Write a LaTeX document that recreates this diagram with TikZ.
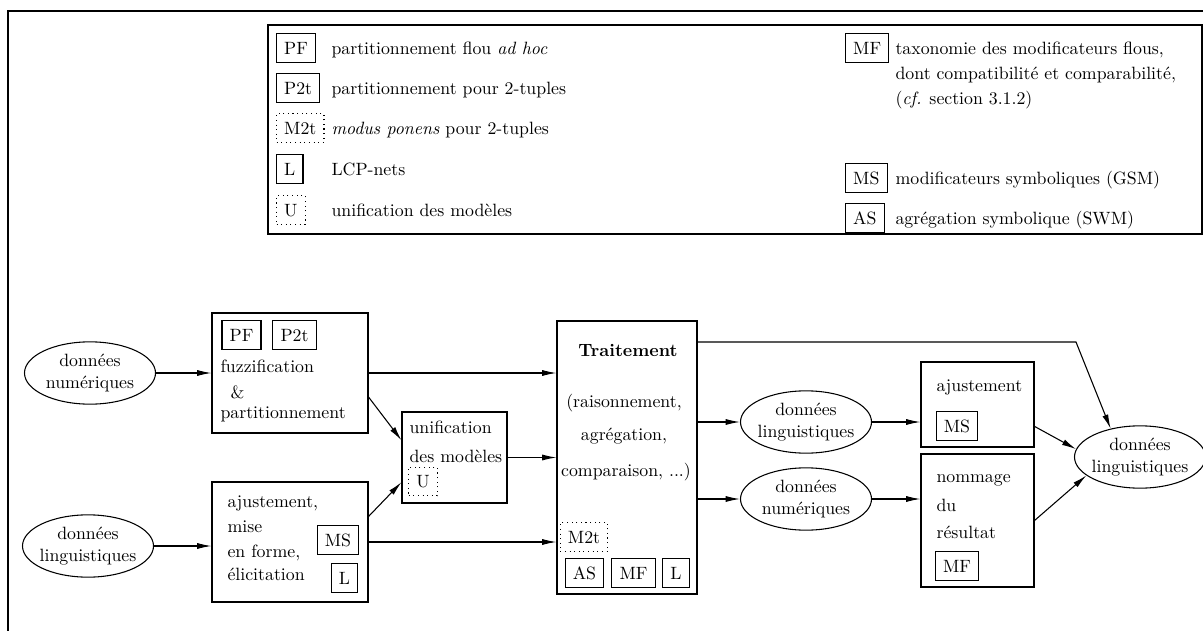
\documentclass[tikz,border=0pt]{standalone}
\usepackage{tikz}
\usetikzlibrary{shapes.geometric,arrows.meta}
\newcommand\pxl{0.5618pt}

\begin{document}
\begin{tikzpicture}[x=0.5618pt,y=-0.5618pt,line width=0.6pt,
  bloc/.style={draw,inner sep=0pt},
  sigle/.style={draw,inner xsep=4.3pt,inner ysep=4.6pt,text height=6.83pt,text depth=0pt},
  siglep/.style={sigle,dotted},
  donnee/.style={draw,ellipse,align=center,inner sep=-3pt,minimum width=73.6pt,minimum height=35pt},
  fleche/.style={-{Latex[length=8pt,width=3.4pt]}},
  txt/.style={anchor=base west,inner sep=0pt},
  txtc/.style={anchor=base,inner sep=0pt}]
\useasboundingbox (0,0) rectangle (1203,631);
% cadre
\draw[line width=1.2pt] (8,645) -- (8,11) -- (1215,11);
% legende
\node[bloc,minimum width=934*\pxl,minimum height=209*\pxl] (legende) at (735,129.5) {};
\node[sigle,anchor=west] (lPF) at (276,48) {PF}; \node[txt] (tPF) at (331,54) {partitionnement flou \emph{ad hoc}};
\node[sigle,anchor=west] (lP2t) at (276,88) {P2t}; \node[txt] (tP2t) at (331,94) {partitionnement pour 2-tuples};
\node[siglep,anchor=west] (lM2t) at (276,128) {M2t}; \node[txt] (tM2t) at (331,134) {\emph{modus ponens} pour 2-tuples};
\node[sigle,anchor=west] (lL) at (276,169) {L}; \node[txt] (tL) at (331,175) {LCP-nets};
\node[siglep,anchor=west] (lU) at (276,210) {U}; \node[txt] (tU) at (331,216) {unification des modèles};
\node[sigle,anchor=west] (lMF) at (845,48) {MF}; \node[txt] (tMFa) at (895,54) {taxonomie des modificateurs flous,};
\node[txt] (tMFb) at (895,79) {dont compatibilité et comparabilité,}; \node[txt] (tMFc) at (895,104) {(\emph{cf.} section 3.1.2)};
\node[sigle,anchor=west] (lMS) at (845,178) {MS}; \node[txt] (tMS) at (895,184) {modificateurs symboliques (GSM)};
\node[sigle,anchor=west] (lAS) at (845,218) {AS}; \node[txt] (tAS) at (895,224) {agrégation symbolique (SWM)};
% entrees
\node[donnee] (numE) at (90,373) {données\\numériques};
\node[donnee] (lingE) at (88,546) {données\\linguistiques};
\node[bloc,minimum width=156*\pxl,minimum height=120*\pxl] (fuzz) at (290,373) {};
\node[sigle] (fPF) at (241.5,335) {PF}; \node[sigle] (fP2t) at (294.5,335) {P2t};
\node[txt] (fuzzA) at (220,372) {fuzzification}; \node[txt] (fuzzB) at (230,398) {\&}; \node[txt] (fuzzC) at (220,418) {partitionnement};
\node[bloc,minimum width=156*\pxl,minimum height=120*\pxl] (ajust) at (290,542) {};
\node[txt] (ajustA) at (227,507) {ajustement,}; \node[txt] (ajustB) at (227,532) {mise};
\node[txt] (ajustC) at (227,557) {en forme,}; \node[txt] (ajustD) at (227,580) {élicitation};
\node[sigle] (aMS) at (338,540) {MS}; \node[sigle] (aL) at (344.5,578) {L};
\node[bloc,minimum width=105*\pxl,minimum height=91*\pxl] (unif) at (454.5,457.5) {};
\node[txt] (unifA) at (409,433) {unification}; \node[txt] (unifB) at (409,462) {des modèles};
\node[siglep] (uU) at (423,481.5) {U};
% traitement
\node[bloc,minimum width=140*\pxl,minimum height=273*\pxl] (trait) at (627,457.5) {};
\node[txtc] (trA) at (628,356) {\textbf{Traitement}}; \node[txtc] (trB) at (624,407) {(raisonnement,};
\node[txtc] (trC) at (624,440) {agrégation,}; \node[txtc] (trD) at (626,476) {comparaison, ...)};
\node[siglep] (tM2t) at (584,537) {M2t};
\node[sigle] (tAS) at (584.5,573) {AS}; \node[sigle] (tMF) at (633.5,573) {MF}; \node[sigle] (tLL) at (676,573) {L};
% sorties
\node[donnee] (lingM) at (806,422) {données\\linguistiques};
\node[donnee] (numM) at (806,499) {données\\numériques};
\node[bloc,minimum width=113*\pxl,minimum height=85*\pxl] (ajM) at (977.5,404.5) {};
\node[txt] (ajMA) at (936,391) {ajustement}; \node[sigle] (ajMS) at (957,426) {MS};
\node[bloc,minimum width=113*\pxl,minimum height=133*\pxl] (nom) at (977.5,520.5) {};
\node[txt] (nomA) at (936,482) {nommage}; \node[txt] (nomB) at (936,511) {du}; \node[txt] (nomC) at (936,538) {résultat};
\node[sigle] (nomMF) at (957,566) {MF};
\node[donnee] (fin) at (1140,457) {données\\linguistiques};
\coordinate (coude) at (1076,342);
% fleches
\draw[fleche] (numE) -- (fuzz);
\draw[fleche] (lingE.east) -- (lingE.east -| ajust.west);
\draw[fleche] (fuzz.east) -- (fuzz.east -| trait.west);
\draw[fleche] (fuzz.-17) -- (unif.162);
\draw[fleche] (ajust.18) -- (unif.205);
\draw[fleche] (unif.east) -- (unif.east -| trait.west);
\draw[fleche] (ajust.east) -- (ajust.east -| trait.west);
\draw[fleche] (coude -| trait.east) -- (coude) -- (fin.136);
\draw[fleche] (lingM.west -| trait.east) -- (lingM.west);
\draw[fleche] (numM.west -| trait.east) -- (numM.west);
\draw[fleche] (lingM.east) -- (lingM.east -| ajM.west);
\draw[fleche] (numM.east) -- (numM.east -| nom.west);
\draw[fleche] (ajM.-21) -- (fin.173);
\draw[fleche] (nom.east) -- (fin.199);
\end{tikzpicture}
\end{document}
